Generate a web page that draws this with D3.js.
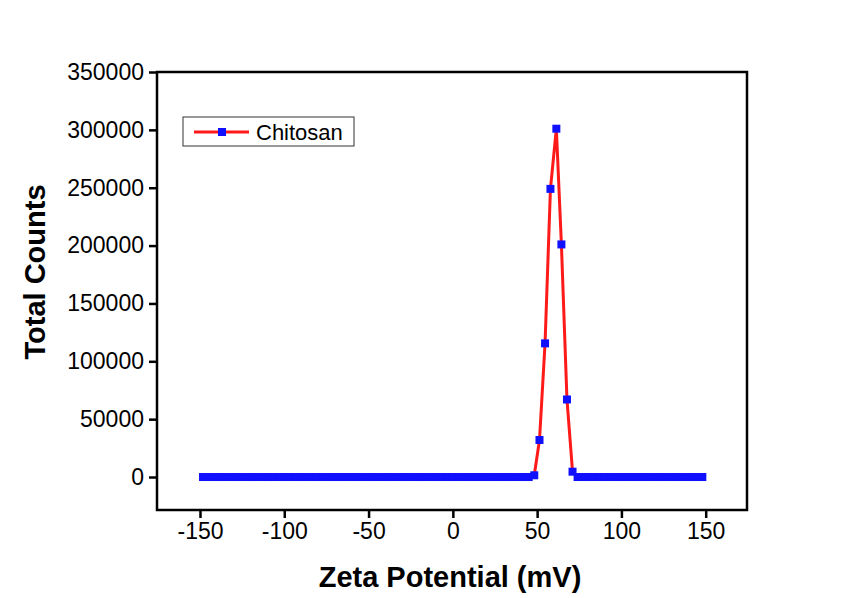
<!DOCTYPE html>
<html>
<head>
<meta charset="utf-8">
<script src="https://cdn.jsdelivr.net/npm/d3@7"></script>
<style>
  html, body { margin: 0; padding: 0; background: #ffffff; }
  svg { display: block; }
  text { font-family: "Liberation Sans", Arial, sans-serif; fill: #000; }
</style>
</head>
<body>
<svg id="chart" width="856" height="598"></svg>
<script>
// ---- Data ----
const zetaPotential = [
  -148.2, -145.0, -141.8, -138.5, -135.3, -132.1, -128.9, -125.7, -122.4, -119.2,
  -116.0, -112.8, -109.6, -106.3, -103.1, -99.9, -96.7, -93.5, -90.2, -87.0,
  -83.8, -80.6, -77.4, -74.1, -70.9, -67.7, -64.5, -61.3, -58.0, -54.8,
  -51.6, -48.4, -45.2, -41.9, -38.7, -35.5, -32.3, -29.1, -25.8, -22.6,
  -19.4, -16.2, -13.0, -9.7, -6.5, -3.3, -0.1, 3.1, 6.4, 9.6,
  12.8, 16.0, 19.2, 22.5, 25.7, 28.9, 32.1, 35.3, 38.6, 41.8,
  45.0, 48.3, 51.4, 54.7, 57.9, 61.4, 64.4, 67.7, 71.0, 74.0,
  77.2, 80.4, 83.6, 86.9, 90.1, 93.3, 96.5, 99.7, 103.0, 106.2,
  109.4, 112.6, 115.8, 119.1, 122.3, 125.5, 128.7, 131.9, 135.2, 138.4,
  141.6, 144.8, 148.0
];
const totalCounts = [
  0, 0, 0, 0, 0, 0, 0, 0, 0, 0,
  0, 0, 0, 0, 0, 0, 0, 0, 0, 0,
  0, 0, 0, 0, 0, 0, 0, 0, 0, 0,
  0, 0, 0, 0, 0, 0, 0, 0, 0, 0,
  0, 0, 0, 0, 0, 0, 0, 0, 0, 0,
  0, 0, 0, 0, 0, 0, 0, 0, 0, 0,
  0, 1500, 32000, 115500, 249000, 301000, 201000, 67000, 4600, 0,
  0, 0, 0, 0, 0, 0, 0, 0, 0, 0,
  0, 0, 0, 0, 0, 0, 0, 0, 0, 0,
  0, 0, 0
];
const xTicks = [-150, -100, -50, 0, 50, 100, 150];
const yTicks = [0, 50000, 100000, 150000, 200000, 250000, 300000, 350000];
const seriesName = "Chitosan";
const xTitle = "Zeta Potential (mV)";
const yTitle = "Total Counts";

// ---- Layout ----
const plot = { left: 157, right: 747, top: 72, bottom: 510 };
const svg = d3.select("#chart");

const x = d3.scaleLinear().domain([-175.5, 174.5]).range([plot.left, plot.right]);
const y = d3.scaleLinear().domain([-28500, 350000]).range([plot.bottom, plot.top]);

const data = zetaPotential.map((v, i) => ({ x: v, y: totalCounts[i] }));

// Axes
const xAxis = d3.axisBottom(x).tickValues(xTicks).tickSize(8).tickPadding(5).tickFormat(d3.format("d"));
const yAxis = d3.axisLeft(y).tickValues(yTicks).tickSize(8).tickPadding(5).tickFormat(d3.format("d"));

const gx = svg.append("g").attr("transform", `translate(0,${plot.bottom})`).call(xAxis);
const gy = svg.append("g").attr("transform", `translate(${plot.left},0)`).call(yAxis);
[gx, gy].forEach(g => {
  g.select(".domain").remove();
  g.selectAll(".tick line").attr("stroke", "#000").attr("stroke-width", 2.5);
  g.selectAll(".tick text")
    .style("font-family", "'Liberation Sans', Arial, sans-serif")
    .style("font-size", "23px")
    .attr("fill", "#000");
});
gx.selectAll(".tick text").text(d => d < 0 ? "-" + Math.abs(d) : String(d));

// Frame
svg.append("rect")
  .attr("x", plot.left).attr("y", plot.top)
  .attr("width", plot.right - plot.left).attr("height", plot.bottom - plot.top)
  .attr("fill", "none").attr("stroke", "#000").attr("stroke-width", 2.5);

// Line
const line = d3.line().x(d => x(d.x)).y(d => y(d.y));
svg.append("path").datum(data)
  .attr("d", line)
  .attr("fill", "none")
  .attr("stroke", "#ff1a1a")
  .attr("stroke-width", 3)
  .attr("stroke-linejoin", "round");

// Markers
const ms = 8;
svg.append("g").selectAll("rect").data(data).join("rect")
  .attr("x", d => x(d.x) - ms / 2)
  .attr("y", d => y(d.y) - ms / 2)
  .attr("width", ms).attr("height", ms)
  .attr("fill", "#1010ff");

// Legend
const lg = svg.append("g");
lg.append("rect").attr("x", 183).attr("y", 117).attr("width", 171).attr("height", 29)
  .attr("fill", "#fff").attr("stroke", "#333").attr("stroke-width", 1);
lg.append("line").attr("x1", 194).attr("x2", 249).attr("y1", 132).attr("y2", 132)
  .attr("stroke", "#ff1a1a").attr("stroke-width", 3);
lg.append("rect").attr("x", 222 - ms / 2).attr("y", 132 - ms / 2).attr("width", ms).attr("height", ms)
  .attr("fill", "#1010ff");
lg.append("text").attr("x", 256).attr("y", 140).style("font-size", "22px").text(seriesName);

// Axis titles
svg.append("text")
  .attr("x", (plot.left + plot.right) / 2 - 2).attr("y", 587)
  .attr("text-anchor", "middle")
  .style("font-size", "29px").style("font-weight", "bold")
  .text(xTitle);
svg.append("text")
  .attr("transform", `translate(45,${272}) rotate(-90)`)
  .attr("text-anchor", "middle")
  .style("font-size", "29px").style("font-weight", "bold")
  .text(yTitle);
</script>
</body>
</html>
